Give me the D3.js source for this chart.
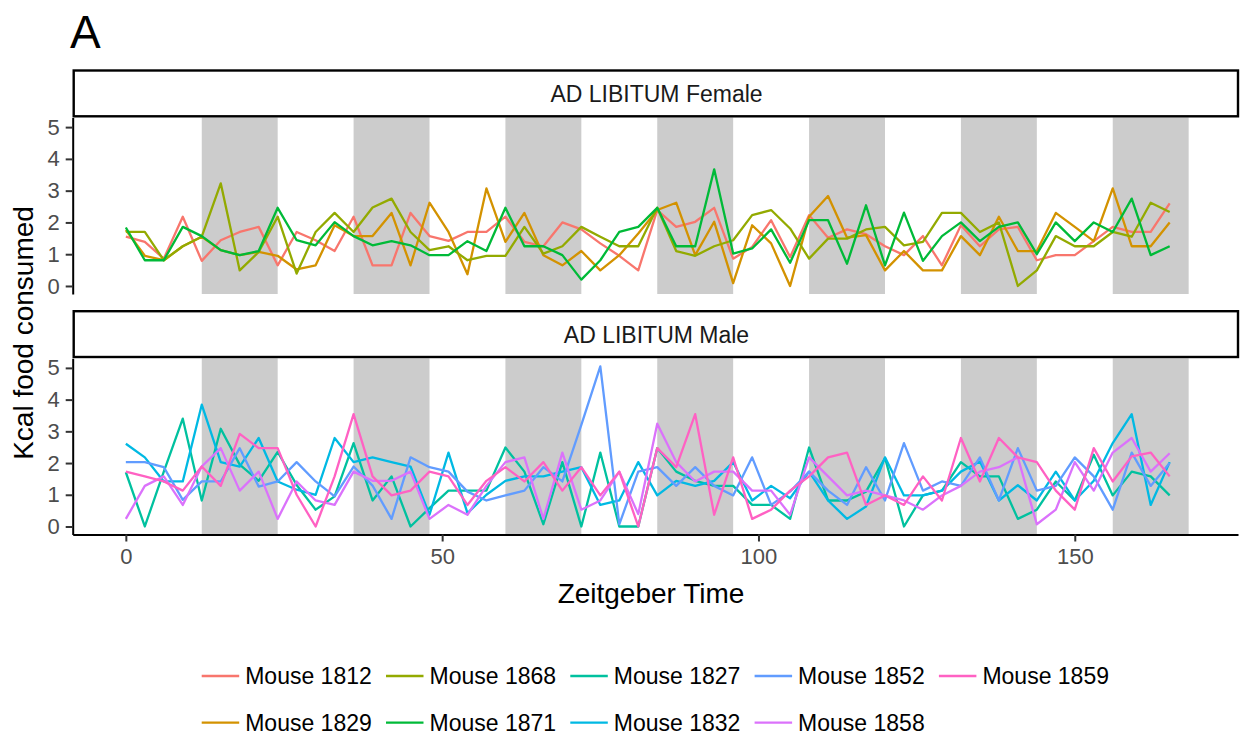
<!DOCTYPE html>
<html lang="en">
<head>
<meta charset="UTF-8">
<title>Kcal food consumed - AD LIBITUM</title>
<script src="https://d3js.org/d3.v7.min.js"></script>
<style>
  body { margin: 0; background: #fff; font-family: "Liberation Sans", Arial, sans-serif; }
  .tick text { fill: #4d4d4d; }
</style>
</head>
<body>
<div id="chart"></div>
<script>
// sample times (hours, Zeitgeber)
const times = [0, 3, 6, 9, 12, 15, 18, 21, 24, 27, 30, 33, 36, 39, 42, 45, 48, 51, 54, 57,
  60, 63, 66, 69, 72, 75, 78, 81, 84, 87, 90, 93, 96, 99, 102, 105, 108, 111, 114, 117,
  120, 123, 126, 129, 132, 135, 138, 141, 144, 147, 150, 153, 156, 159, 162, 165];
const darkStarts = [12, 36, 60, 84, 108, 132, 156];
const darkLength = 12;
const xTicks = [0, 50, 100, 150];
const yTicks = [0, 1, 2, 3, 4, 5];
const panels = ["AD LIBITUM Female", "AD LIBITUM Male"];

// females
const mouse1812 = [1.55, 1.39, 0.86, 2.18, 0.79, 1.44, 1.70, 1.86, 0.65, 1.70,
  1.44, 1.10, 2.18, 0.65, 0.65, 2.30, 1.57, 1.42, 1.70, 1.70,
  2.18, 1.39, 1.25, 2.00, 1.78, 1.34, 0.95, 0.49, 2.39, 1.86,
  2.02, 2.46, 0.86, 1.23, 2.07, 0.91, 2.23, 1.52, 1.78, 1.63,
  1.25, 0.97, 1.57, 0.65, 1.91, 1.25, 1.78, 1.86, 0.81, 0.97,
  0.97, 1.41, 1.86, 1.70, 1.70, 2.60];
const mouse1829 = [1.76, 0.95, 0.81, 1.25, 1.55, 1.13, 0.97, 1.07, 0.95, 0.52,
  0.65, 1.91, 1.57, 1.57, 2.30, 0.65, 2.62, 1.70, 0.37, 3.07,
  1.39, 2.30, 0.97, 0.65, 1.10, 0.49, 0.97, 1.65, 2.39, 2.62,
  0.97, 2.02, 0.09, 1.91, 1.34, 0.00, 2.18, 2.83, 1.52, 1.60,
  0.49, 1.10, 0.49, 0.49, 1.57, 0.97, 2.18, 1.10, 1.10, 2.30,
  1.86, 1.41, 3.07, 1.25, 1.25, 2.00];
const mouse1868 = [1.70, 1.70, 0.81, 1.25, 1.55, 3.23, 0.49, 1.07, 2.18, 0.39,
  1.70, 2.30, 1.70, 2.47, 2.75, 1.70, 1.13, 1.25, 0.81, 0.95,
  0.95, 1.86, 1.02, 1.25, 1.86, 1.55, 1.25, 1.25, 2.46, 1.10,
  0.95, 1.25, 1.44, 2.23, 2.39, 1.81, 0.86, 1.49, 1.49, 1.78,
  1.86, 1.28, 1.39, 2.30, 2.30, 1.70, 2.00, 0.00, 0.49, 1.57,
  1.25, 1.25, 1.70, 1.55, 2.62, 2.33];
const mouse1871 = [1.84, 0.81, 0.81, 1.86, 1.57, 1.13, 0.97, 1.10, 2.46, 1.44,
  1.28, 2.01, 1.57, 1.28, 1.41, 1.28, 0.97, 0.97, 1.41, 1.10,
  2.46, 1.25, 1.25, 0.97, 0.20, 0.81, 1.70, 1.86, 2.46, 1.25,
  1.25, 3.67, 1.02, 1.18, 1.78, 0.73, 2.07, 2.07, 0.70, 2.54,
  0.65, 2.31, 0.79, 1.57, 2.00, 1.41, 1.86, 2.00, 1.00, 2.00,
  1.41, 2.00, 1.70, 2.75, 0.97, 1.25];

// males
const mouse1827 = [1.71, 0.00, 1.73, 3.40, 0.82, 3.08, 1.95, 1.44, 2.35, 1.31,
  0.53, 0.95, 2.63, 0.82, 1.58, 0.00, 0.58, 1.13, 1.13, 1.13,
  2.49, 1.73, 0.07, 2.03, 0.00, 2.33, 0.00, 0.00, 2.47, 1.73,
  1.44, 1.28, 1.28, 0.68, 0.68, 0.24, 2.49, 0.82, 0.82, 1.10,
  2.16, 0.00, 0.98, 1.13, 2.03, 1.58, 1.58, 0.24, 0.53, 1.42,
  0.82, 2.26, 0.98, 1.73, 1.58, 0.98];
const mouse1832 = [2.61, 2.18, 1.42, 1.42, 3.84, 2.03, 1.89, 2.79, 1.42, 1.16,
  1.00, 2.79, 2.03, 2.18, 2.03, 1.89, 0.37, 2.33, 0.42, 1.00,
  1.44, 1.58, 1.58, 1.73, 1.87, 0.68, 0.82, 2.03, 0.98, 1.44,
  1.28, 1.44, 2.03, 0.82, 1.28, 0.89, 1.73, 0.82, 0.24, 0.63,
  2.18, 0.98, 0.98, 1.13, 1.73, 2.05, 0.82, 1.30, 0.82, 1.73,
  0.82, 1.44, 2.63, 3.54, 0.68, 2.03];
const mouse1852 = [2.03, 2.03, 1.87, 0.84, 1.42, 1.42, 2.47, 1.26, 1.42, 2.03,
  1.42, 0.95, 1.89, 1.29, 0.24, 2.18, 1.87, 1.73, 1.10, 0.82,
  0.98, 1.13, 1.87, 1.42, 3.20, 5.05, 0.07, 1.73, 1.87, 1.28,
  1.87, 1.28, 0.98, 2.18, 0.68, 1.10, 1.73, 1.13, 0.68, 1.87,
  0.82, 2.63, 1.13, 1.42, 1.28, 2.18, 0.82, 2.47, 1.13, 1.28,
  2.18, 1.58, 0.53, 2.33, 1.28, 2.00];
const mouse1858 = [0.24, 1.28, 1.58, 0.68, 1.89, 2.47, 1.13, 1.73, 0.24, 1.42,
  0.82, 0.68, 1.73, 1.44, 1.44, 1.73, 0.24, 0.68, 0.37, 1.28,
  2.03, 2.18, 0.24, 2.33, 0.53, 0.82, 1.73, 0.39, 3.24, 2.03,
  1.42, 1.73, 1.73, 1.13, 1.13, 0.37, 2.18, 1.58, 0.98, 1.13,
  0.98, 0.82, 0.53, 0.98, 1.28, 1.73, 1.87, 2.18, 0.07, 0.53,
  2.03, 1.13, 2.33, 2.79, 1.73, 2.31];
const mouse1859 = [1.73, 1.58, 1.42, 1.13, 1.89, 1.28, 2.92, 2.47, 2.47, 1.00,
  0.00, 1.58, 3.54, 1.58, 0.98, 1.13, 1.73, 1.58, 0.68, 1.44,
  1.87, 1.42, 2.03, 1.13, 1.87, 0.98, 1.73, 0.00, 2.47, 1.87,
  3.54, 0.37, 2.18, 0.24, 0.53, 1.13, 1.58, 2.18, 2.33, 0.68,
  0.98, 0.68, 1.58, 0.82, 2.79, 1.42, 2.79, 2.18, 2.03, 1.13,
  0.53, 2.47, 1.42, 2.21, 2.33, 1.58];

// legend / drawing order (ggplot factor order)
const mice = [
  { name: "Mouse 1812", panel: 0, values: mouse1812, color: "#F8766D" },
  { name: "Mouse 1829", panel: 0, values: mouse1829, color: "#D39200" },
  { name: "Mouse 1868", panel: 0, values: mouse1868, color: "#93AA00" },
  { name: "Mouse 1871", panel: 0, values: mouse1871, color: "#00BA38" },
  { name: "Mouse 1827", panel: 1, values: mouse1827, color: "#00C19F" },
  { name: "Mouse 1832", panel: 1, values: mouse1832, color: "#00B9E3" },
  { name: "Mouse 1852", panel: 1, values: mouse1852, color: "#619CFF" },
  { name: "Mouse 1858", panel: 1, values: mouse1858, color: "#DB72FB" },
  { name: "Mouse 1859", panel: 1, values: mouse1859, color: "#FF61C3" }
];

const width = 1241, height = 736;
const left = 72.7, right = 1238;
const panelBox = [
  { stripTop: 70.5, stripBottom: 116.3, top: 117.5, bottom: 294 },
  { stripTop: 311.2, stripBottom: 357, top: 358.3, bottom: 534.5 }
];

const svg = d3.select("#chart").append("svg")
  .attr("width", width)
  .attr("height", height);

const x = d3.scaleLinear().domain([-8.4, 175.8]).range([left, right]);

svg.append("text")
  .attr("x", 70).attr("y", 48)
  .style("font-size", "46px")
  .text("A");

panelBox.forEach((p, i) => {
  const y = d3.scaleLinear().domain([-0.2525, 5.3025]).range([p.bottom, p.top]);
  const g = svg.append("g");

  // dark phases
  g.selectAll("rect.dark")
    .data(darkStarts)
    .enter().append("rect")
    .attr("class", "dark")
    .attr("x", d => x(d))
    .attr("y", p.top)
    .attr("width", d => x(d + darkLength) - x(d))
    .attr("height", p.bottom - p.top)
    .attr("fill", "#cccccc");

  // lines
  const line = d3.line()
    .x((d, k) => x(times[k]))
    .y(d => y(d));

  g.selectAll("path.mouse")
    .data(mice.filter(m => m.panel === i))
    .enter().append("path")
    .attr("class", "mouse")
    .attr("d", m => line(m.values))
    .attr("fill", "none")
    .attr("stroke", m => m.color)
    .attr("stroke-width", 2.3)
    .attr("stroke-linejoin", "round");

  // strip
  svg.append("rect")
    .attr("x", left + 1)
    .attr("y", p.stripTop)
    .attr("width", right - left - 1)
    .attr("height", p.stripBottom - p.stripTop)
    .attr("fill", "#fff")
    .attr("stroke", "#000")
    .attr("stroke-width", 2.4);

  svg.append("text")
    .attr("x", 656.5)
    .attr("y", (p.stripTop + p.stripBottom) / 2 + 8.5)
    .attr("text-anchor", "middle")
    .style("font-size", "23px")
    .style("fill", "#1a1a1a")
    .text(panels[i]);

  // y axis
  const yAxis = svg.append("g")
    .attr("transform", `translate(${left},0)`)
    .call(d3.axisLeft(y).tickValues(yTicks).tickFormat(d3.format("d"))
      .tickSize(7).tickSizeOuter(0).tickPadding(6));
  yAxis.select(".domain").attr("stroke", "#000").attr("stroke-width", 2);
  yAxis.selectAll(".tick line").attr("stroke", "#333").attr("stroke-width", 2);
  yAxis.selectAll(".tick text").style("font-size", "22px").style("font-family", "Liberation Sans, Arial, sans-serif");

  if (i === 1) {
    const xAxis = svg.append("g")
      .attr("transform", `translate(0,${p.bottom})`)
      .call(d3.axisBottom(x).tickValues(xTicks).tickFormat(d3.format("d"))
        .tickSize(7).tickSizeOuter(0).tickPadding(7));
    xAxis.select(".domain").attr("stroke", "#000").attr("stroke-width", 2);
    xAxis.selectAll(".tick line").attr("stroke", "#333").attr("stroke-width", 2);
    xAxis.selectAll(".tick text").style("font-size", "22px").style("font-family", "Liberation Sans, Arial, sans-serif");
  }
});

// axis titles
svg.append("text")
  .attr("x", 651).attr("y", 602.7)
  .attr("text-anchor", "middle")
  .style("font-size", "28px")
  .text("Zeitgeber Time");

svg.append("text")
  .attr("transform", "translate(32.5,333) rotate(-90)")
  .attr("text-anchor", "middle")
  .style("font-size", "28px")
  .text("Kcal food consumed");

// legend, two rows filled column by column
const legend = svg.append("g");
const items = legend.selectAll("g")
  .data(mice)
  .enter().append("g")
  .attr("transform", (d, i) => `translate(${201.7 + Math.floor(i / 2) * 184.3},${i % 2 === 0 ? 676 : 722.7})`);

items.append("line")
  .attr("x1", 0).attr("x2", 37.5)
  .attr("stroke", d => d.color)
  .attr("stroke-width", 2.3);

items.append("text")
  .attr("x", 43.5)
  .attr("dominant-baseline", "central")
  .style("font-size", "23px")
  .text(d => d.name);
</script>
</body>
</html>
